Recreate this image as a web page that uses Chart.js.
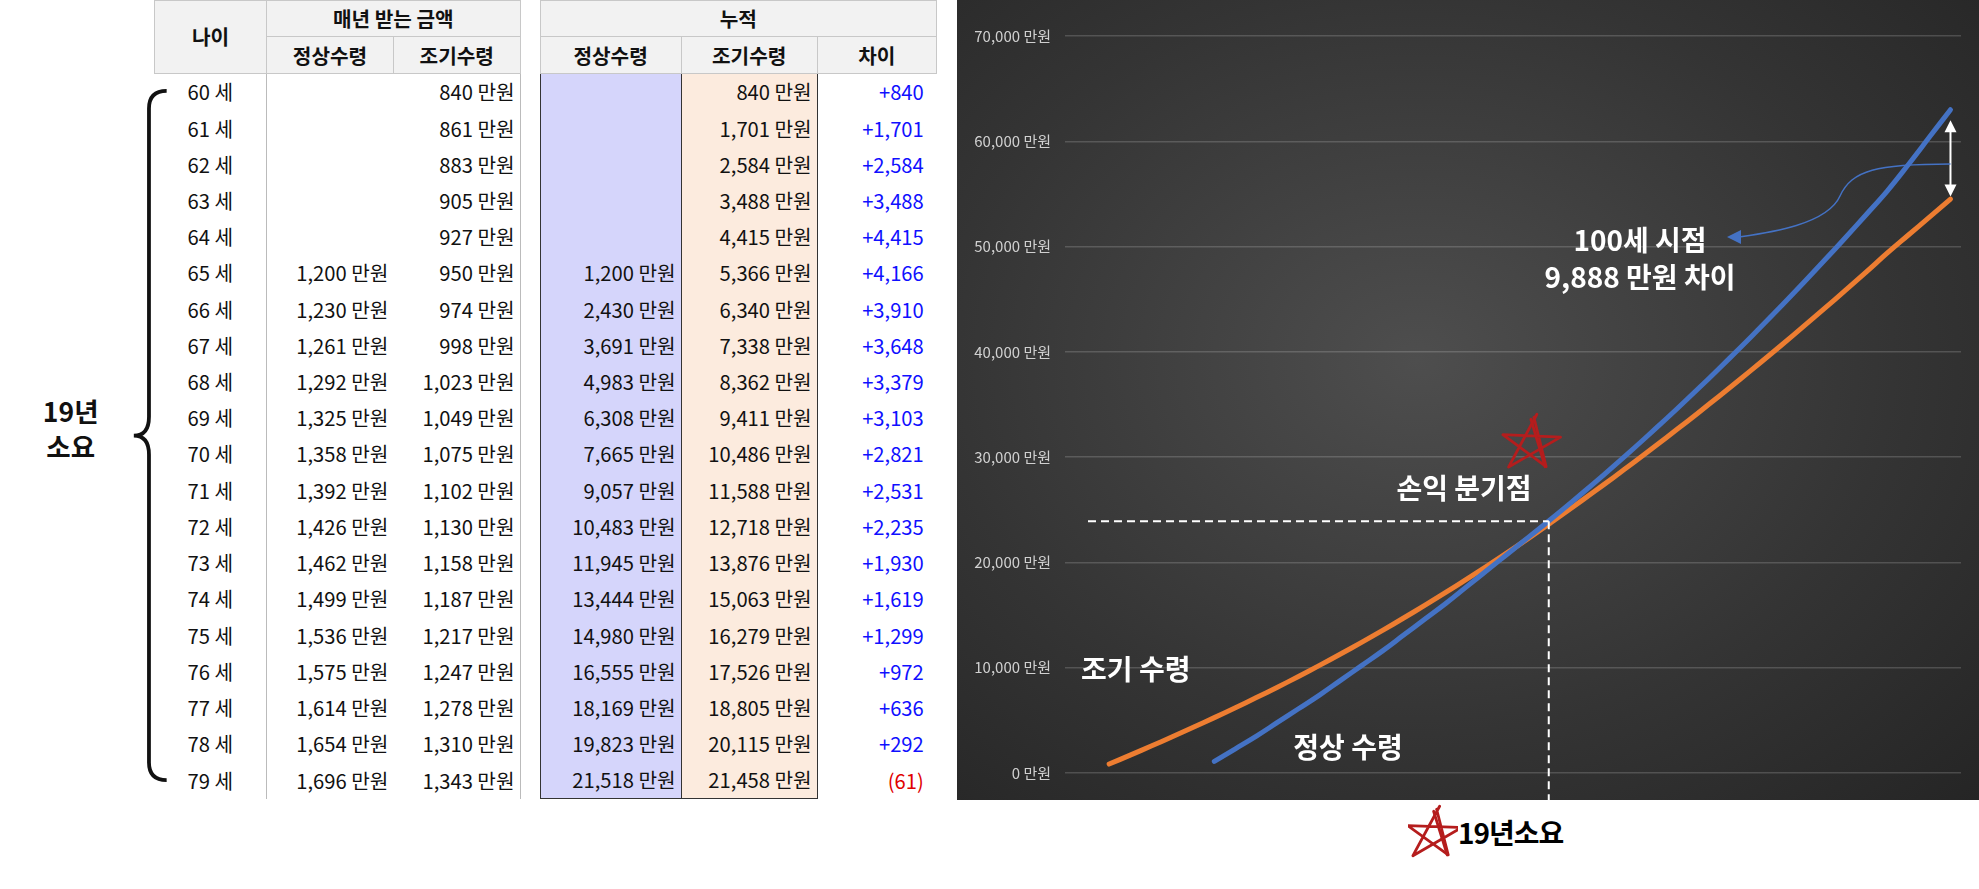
<!DOCTYPE html>
<html><head><meta charset="utf-8">
<script src="https://cdn.jsdelivr.net/npm/chart.js@4"></script>
<style>
body{margin:0;background:#fff;width:1979px;height:889px;overflow:hidden;position:relative;font-family:"Noto Sans CJK KR","Noto Sans",sans-serif}
#tblwrap{position:absolute;left:0;top:0;zoom:1.2625;width:760px;height:700px}
table{position:absolute;left:122px;top:0;border-collapse:collapse;font-size:16px;color:#111}
td,th{padding:0 4px;height:28.7px;white-space:nowrap}
th{background:#f2f2f2;font-weight:bold;height:28px;text-align:center;border:1px solid #c8c8c8}
th.sp,td.sp{background:#fff;border:none;width:15px;min-width:15px;padding:0}
td.age{width:80px;text-align:center;border-right:1px solid #bbb}
td.n{width:92px;text-align:right}
td.e{width:92px;text-align:right;border-right:1px solid #bbb}
td.cn{width:103px;text-align:right;background:#d5d5fb;border-left:1.5px solid #333;border-right:1.5px solid #333}
td.ce{width:99px;text-align:right;background:#fcebde;border-right:1.5px solid #333}
td.d{width:80px;text-align:right;color:#1010ff;padding-right:10px}
tr.first td.cn,tr.first td.ce{border-top:1.5px solid #333}
tr.last td.cn,tr.last td.ce{border-bottom:1.5px solid #333}
#panel{position:absolute;left:957px;top:0;width:1022px;height:800px;background:radial-gradient(ellipse at 45% 45%,#4e4e4e 0%,#343434 60%,#252525 100%)}
#c{position:absolute;left:0;top:0;width:1022px;height:800px}
#brace{position:absolute;left:0;top:0}
#foot{position:absolute;left:1408px;top:800px;width:260px;height:70px}
#foot span{position:absolute;left:50px;top:12px;font-size:28px;font-weight:bold;color:#000;letter-spacing:-1px}
</style></head><body>
<div id="tblwrap">
<svg id="brace" width="140" height="640">
<path d="M132,72 Q118,72 118,86 L118,330 Q118,345 106,345 Q118,345 118,360 L118,604 Q118,618 132,618" fill="none" stroke="#111" stroke-width="3"/>
<text x="56" y="334" font-size="21" font-weight="bold" text-anchor="middle" fill="#111">19년</text>
<text x="56" y="362" font-size="21" font-weight="bold" text-anchor="middle" fill="#111">소요</text>
</svg>
<table id="t"></table>
</div>
<div id="panel"><canvas id="c" width="1022" height="800"></canvas></div>
<div id="foot"><canvas id="fs" width="50" height="70"></canvas><span>19년소요</span></div>
<script>
// ---- table data ----
const ages=[60,61,62,63,64,65,66,67,68,69,70,71,72,73,74,75,76,77,78,79];
const normalAnnual=[null,null,null,null,null,1200,1230,1261,1292,1325,1358,1392,1426,1462,1499,1536,1575,1614,1654,1696];
const earlyAnnual=[840,861,883,905,927,950,974,998,1023,1049,1075,1102,1130,1158,1187,1217,1247,1278,1310,1343];
const cumNormal=[null,null,null,null,null,1200,2430,3691,4983,6308,7665,9057,10483,11945,13444,14980,16555,18169,19823,21518];
const cumEarly=[840,1701,2584,3488,4415,5366,6340,7338,8362,9411,10486,11588,12718,13876,15063,16279,17526,18805,20115,21458];
const diffs=[840,1701,2584,3488,4415,4166,3910,3648,3379,3103,2821,2531,2235,1930,1619,1299,972,636,292,-61];
// ---- chart data ----
const chartAgesNormal=[65,66,67,68,69,70,71,72,73,74,75,76,77,78,79,80,81,82,83,84,85,86,87,88,89,90,91,92,93,94,95,96,97,98,99,100];
const chartNormal=[1100,2300,3500,4800,6100,7400,8800,10200,11600,13100,14600,16100,17700,19300,20900,22500,24100,25750,27440,29170,30940,32750,34600,36490,38420,40390,42400,44450,46540,48670,50840,53050,55300,57800,60400,63000];
const chartAgesEarly=[60,61,62,63,64,65,66,67,68,69,70,71,72,73,74,75,76,77,78,79,80,81,82,83,84,85,86,87,88,89,90,91,92,93,94,95,96,97,98,99,100];
const chartEarly=[850,1700,2560,3440,4340,5260,6200,7160,8150,9170,10220,11300,12410,13550,14720,15920,17150,18410,19700,21020,22380,23780,25200,26640,28100,29590,31100,32640,34200,35790,37400,39040,40700,42390,44100,45840,47600,49390,51100,52800,54500];
const yTicks=[0,10000,20000,30000,40000,50000,60000,70000];

const f=v=>v.toLocaleString('en-US');
let h='<tr><th rowspan="2" style="width:80px">나이</th><th colspan="2">매년 받는 금액</th><th class="sp"></th><th colspan="3">누적</th></tr>';
h+='<tr><th>정상수령</th><th>조기수령</th><th class="sp"></th><th>정상수령</th><th>조기수령</th><th>차이</th></tr>';
ages.forEach((a,i)=>{
 const cls=i===0?'first':(i===ages.length-1?'last':'');
 const d=diffs[i];
 h+=`<tr class="${cls}"><td class="age">${a} 세</td><td class="n">${normalAnnual[i]?f(normalAnnual[i])+' 만원':''}</td><td class="e">${f(earlyAnnual[i])} 만원</td><td class="sp"></td><td class="cn">${cumNormal[i]?f(cumNormal[i])+' 만원':''}</td><td class="ce">${f(cumEarly[i])} 만원</td><td class="d"${d<0?' style="color:#e00000"':''}>${d<0?'('+f(-d)+')':'+'+f(d)}</td></tr>`;
});
document.getElementById('t').innerHTML=h;

function star(ctx,cx,cy,r){
 ctx.save();ctx.strokeStyle='#b51d1d';ctx.lineWidth=2.8;ctx.lineJoin='round';ctx.lineCap='round';
 const pts=[];for(let k=0;k<5;k++){const a=(-90+72*k+8)*Math.PI/180;pts.push([cx+r*Math.cos(a),cy+r*Math.sin(a)])}
 const ord=[0,2,4,1,3,0];
 ctx.beginPath();ord.forEach((k,i)=>{const p=pts[k];const j=(i%2?3:-2);i?ctx.lineTo(p[0]+j,p[1]-j):ctx.moveTo(p[0],p[1])});ctx.stroke();
 ctx.beginPath();ctx.moveTo(pts[0][0]-3,pts[0][1]+2);ctx.lineTo(pts[2][0]+2,pts[2][1]-3);ctx.stroke();
 ctx.restore();
}
star(document.getElementById('fs').getContext('2d'),25,35,26);
const annot={id:'annot',afterDatasetsDraw(ch){
 const c=ch.ctx,xs=ch.scales.x,ys=ch.scales.y;
 const px=xs.getPixelForValue(80.9),py=ys.getPixelForValue(23900);
 c.save();
 c.strokeStyle='#fff';c.lineWidth=2;c.setLineDash([8,5]);
 c.beginPath();c.moveTo(131,py);c.lineTo(px,py);c.moveTo(px,py);c.lineTo(px,800);c.stroke();
 c.setLineDash([]);
 const ax=xs.getPixelForValue(100);
 const y1=ys.getPixelForValue(62000),y2=ys.getPixelForValue(54000)-8;
 c.strokeStyle='#fff';c.fillStyle='#fff';c.lineWidth=2;
 c.beginPath();c.moveTo(ax,y1+10);c.lineTo(ax,y2-10);c.stroke();
 c.beginPath();c.moveTo(ax,y1);c.lineTo(ax-6,y1+12);c.lineTo(ax+6,y1+12);c.fill();
 c.beginPath();c.moveTo(ax,y2);c.lineTo(ax-6,y2-12);c.lineTo(ax+6,y2-12);c.fill();
 c.strokeStyle='#4472c4';c.fillStyle='#4472c4';c.lineWidth=1.5;
 c.beginPath();c.moveTo(ax,164);c.bezierCurveTo(920,164,895,170,883,196);c.bezierCurveTo(870,225,810,233,782,237);c.stroke();
 c.beginPath();c.moveTo(770,237);c.lineTo(784,230);c.lineTo(784,244);c.fill();
 c.fillStyle='#fff';c.font='bold 28px "Noto Sans CJK KR"';c.textAlign='center';c.textBaseline='middle';
 c.fillText('100세 시점',683,240);c.fillText('9,888 만원 차이',683,277);
 c.fillText('손익 분기점',507,488);
 c.fillText('정상 수령',391,747);
 c.textAlign='left';c.fillText('조기 수령',124,669);
 c.restore();
 star(c,573,445,28);
}};
new Chart(document.getElementById('c'),{
 type:'line',
 data:{datasets:[
  {label:'정상 수령',data:chartAgesNormal.map((a,i)=>({x:a,y:chartNormal[i]})),borderColor:'#4472c4',borderWidth:5,pointRadius:0,tension:0.4,borderCapStyle:'round'},
  {label:'조기 수령',data:chartAgesEarly.map((a,i)=>({x:a,y:chartEarly[i]})),borderColor:'#ed7d31',borderWidth:5,pointRadius:0,tension:0.4,borderCapStyle:'round'}
 ]},
 options:{responsive:false,animation:false,events:[],
  layout:{padding:{top:36,right:18,bottom:27,left:0}},
  plugins:{legend:{display:false},tooltip:{enabled:false}},
  scales:{
   x:{type:'linear',min:57.9,max:100.5,display:false},
   y:{min:0,max:70000,afterBuildTicks:ax=>{ax.ticks=yTicks.map(v=>({value:v}))},
      afterFit:ax=>{ax.width=108},
      border:{display:false},
      grid:{color:'rgba(255,255,255,0.17)',lineWidth:1.5,drawTicks:false},
      ticks:{color:'#d0d0d0',padding:14,font:{size:15,family:'"Noto Sans CJK KR"'},callback:v=>f(v)+' 만원'}}
  }},
 plugins:[annot]
});
</script>
</body></html>
